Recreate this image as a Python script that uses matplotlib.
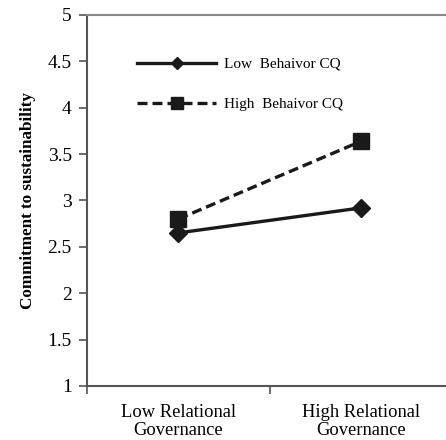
import matplotlib
matplotlib.use('Agg')
import matplotlib.pyplot as plt
from matplotlib.lines import Line2D

plt.rcParams['font.family'] = ['Liberation Serif', 'DejaVu Serif']

# data
categories = ['Low Relational\nGovernance', 'High Relational\nGovernance']
low_cq = [2.65, 2.92]
high_cq = [2.80, 3.64]
yticks = [1, 1.5, 2, 2.5, 3, 3.5, 4, 4.5, 5]
ytick_labels = ['1', '1.5', '2', '2.5', '3', '3.5', '4', '4.5', '5']

fig = plt.figure(figsize=(4.46, 4.40), dpi=100)
ax = fig.add_axes([0.195, 0.123, 0.805, 0.843])

dash = (0, (3, 1.5))
xpos = [0.5, 1.5]
ax.plot(xpos, low_cq, color='#1a1a1a', linestyle='-', linewidth=2.4,
        marker='D', markersize=9.5)
ax.plot(xpos, high_cq, color='#1a1a1a', linestyle=dash, linewidth=2.4,
        marker='s', markersize=11.5)

ax.set_xlim(0, 1.962)
ax.set_ylim(1, 5)
ax.set_yticks(yticks)
ax.set_yticklabels(ytick_labels)
ax.set_xticks([0, 1])
ax.set_xticklabels(['', ''])
ax.set_xticks(xpos, minor=True)
ax.set_xticklabels(categories, minor=True, linespacing=1.05)
ax.tick_params(axis='x', which='minor', length=0, labelsize=13.3, pad=13)
ax.tick_params(axis='x', which='major', length=6, width=1.2, color='#555555')
ax.tick_params(axis='y', length=6, width=1.2, color='#555555', labelsize=14, pad=5)

for s in ['left', 'bottom']:
    ax.spines[s].set_color('#555555')
    ax.spines[s].set_linewidth(1.5)
ax.spines['top'].set_color('#888888')
ax.spines['top'].set_linewidth(1.5)
ax.spines['right'].set_visible(False)

ax.set_ylabel('Commitment to sustainability', fontsize=12.3, fontweight='bold', labelpad=8)

handles = [
    Line2D([], [], color='#1a1a1a', linestyle='-', linewidth=2.4, marker='D', markersize=6),
    Line2D([], [], color='#1a1a1a', linestyle=dash, linewidth=2.4, marker='s', markersize=8),
]
ax.legend(handles, ['Low  Behaivor CQ', 'High  Behaivor CQ'],
          loc='upper left', bbox_to_anchor=(0.139, 0.886), frameon=False,
          borderpad=0, borderaxespad=0,
          fontsize=11, handlelength=5.2, labelspacing=1.72, handletextpad=0.5)

plt.savefig('out.png', dpi=100)
